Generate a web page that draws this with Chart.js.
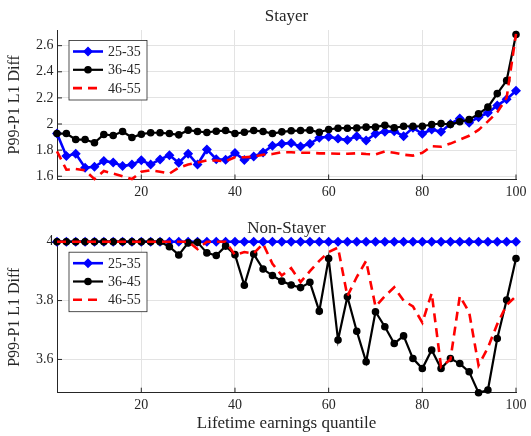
<!DOCTYPE html>
<html>
<head>
<meta charset="utf-8">
<script src="https://cdn.jsdelivr.net/npm/chart.js@4.4.1/dist/chart.umd.min.js"></script>
<style>
    html, body { margin: 0; padding: 0; background: #fff; }
    #wrap { position: relative; width: 531px; height: 436px; }
    #wrap canvas { position: absolute; left: 0; }
    #stayerChart { top: 0; }
    #nonStayerChart { top: 215px; }
</style>
</head>
<body>
<div id="wrap">
    <canvas id="stayerChart" width="531" height="215"></canvas>
    <canvas id="nonStayerChart" width="531" height="221"></canvas>
</div>
<script>
// lifetime earnings quantiles (x)
const quantiles = [2, 4, 6, 8, 10, 12, 14, 16, 18, 20, 22, 24, 26, 28, 30, 32, 34, 36, 38, 40,
    42, 44, 46, 48, 50, 52, 54, 56, 58, 60, 62, 64, 66, 68, 70, 72, 74, 76, 78, 80,
    82, 84, 86, 88, 90, 92, 94, 96, 98, 100];
const ageGroups = ['25-35', '36-45', '46-55'];

// Stayer panel
const stayer2535 = [1.927, 1.755, 1.772, 1.665, 1.672, 1.717, 1.706, 1.678, 1.690, 1.722,
    1.690, 1.729, 1.760, 1.704, 1.773, 1.690, 1.805, 1.730, 1.727, 1.778,
    1.725, 1.752, 1.782, 1.834, 1.848, 1.855, 1.827, 1.849, 1.895, 1.902,
    1.888, 1.877, 1.907, 1.874, 1.925, 1.940, 1.945, 1.907, 1.971, 1.925,
    1.958, 1.940, 2.001, 2.042, 2.009, 2.052, 2.086, 2.142, 2.190, 2.255];
const stayer3645 = [1.927, 1.927, 1.881, 1.881, 1.856, 1.920, 1.912, 1.943, 1.897, 1.922,
    1.933, 1.933, 1.927, 1.917, 1.953, 1.943, 1.935, 1.945, 1.950, 1.927,
    1.937, 1.950, 1.943, 1.927, 1.940, 1.948, 1.950, 1.953, 1.937, 1.958,
    1.968, 1.968, 1.970, 1.976, 1.976, 1.991, 1.971, 1.983, 1.983, 1.983,
    1.996, 2.004, 1.996, 2.017, 2.034, 2.078, 2.129, 2.233, 2.333, 2.685];
const stayer4655 = [1.790, 1.650, 1.655, 1.645, 1.578, 1.640, 1.620, 1.600, 1.578, 1.635,
    1.645, 1.635, 1.620, 1.665, 1.690, 1.705, 1.722, 1.720, 1.715, 1.745,
    1.745, 1.750, 1.765, 1.770, 1.784, 1.784, 1.780, 1.780, 1.775, 1.775,
    1.772, 1.772, 1.776, 1.770, 1.767, 1.790, 1.780, 1.765, 1.758, 1.780,
    1.830, 1.826, 1.850, 1.880, 1.910, 1.955, 2.020, 2.090, 2.200, 2.690];

// Non-Stayer panel
const nonStayer2535 = [4, 4, 4, 4, 4, 4, 4, 4, 4, 4, 4, 4, 4, 4, 4, 4, 4, 4, 4, 4,
    4, 4, 4, 4, 4, 4, 4, 4, 4, 4, 4, 4, 4, 4, 4, 4, 4, 4, 4, 4,
    4, 4, 4, 4, 4, 4, 4, 4, 4, 4];
const nonStayer3645 = [4, 4, 4, 4, 4, 4, 4, 4, 4, 4,
    4, 4, 3.983, 3.955, 3.996, 3.998, 3.962, 3.953, 3.985, 3.956,
    3.852, 3.958, 3.907, 3.885, 3.866, 3.853, 3.844, 3.862, 3.764, 3.943,
    3.666, 3.813, 3.696, 3.592, 3.762, 3.711, 3.654, 3.680, 3.603, 3.569,
    3.632, 3.569, 3.603, 3.586, 3.558, 3.487, 3.496, 3.671, 3.802, 3.943];
const nonStayer4655 = [4, 4, 4, 4, 4, 4, 4, 4, 4, 4,
    4, 4, 4, 4, 4, 3.975, 4, 4, 4, 3.955,
    3.965, 3.960, 3.993, 3.925, 3.885, 3.910, 3.863, 3.900, 3.935, 3.965,
    3.980, 3.815, 3.880, 3.935, 3.780, 3.815, 3.845, 3.800, 3.780, 3.725,
    3.825, 3.575, 3.600, 3.815, 3.760, 3.580, 3.640, 3.720, 3.785, 3.815];

const xTicks = [20, 40, 60, 80, 100];
const stayerYTicks = [1.6, 1.8, 2, 2.2, 2.4, 2.6];
const nonStayerYTicks = [3.6, 3.8, 4];

const textColor = '#262626';
const axisColor = '#262626';
const gridColor = '#e3e3e3';
const fontFamily = "'Liberation Serif', 'Times New Roman', serif";

Chart.defaults.font.family = fontFamily;
Chart.defaults.color = textColor;

const boxLegend = {
    id: 'boxLegend',
    afterDatasetsDraw(chart) {
        const {ctx, chartArea} = chart;
        const left = chartArea.left + 12;
        const top = chartArea.top + 10.5;
        ctx.save();
        ctx.fillStyle = '#fff';
        ctx.strokeStyle = axisColor;
        ctx.lineWidth = 0.8;
        ctx.fillRect(left, top, 78, 59.5);
        ctx.strokeRect(left, top, 78, 59.5);
        chart.data.datasets.forEach((ds, i) => {
            const y = top + 11 + i * 18.3;
            ctx.strokeStyle = ds.borderColor;
            ctx.lineWidth = ds.borderWidth;
            ctx.setLineDash(ds.borderDash || []);
            ctx.beginPath();
            ctx.moveTo(left + 4, y);
            ctx.lineTo(left + 34, y);
            ctx.stroke();
            ctx.setLineDash([]);
            if (ds.pointRadius > 0) {
                ctx.fillStyle = ds.pointBackgroundColor;
                ctx.strokeStyle = ds.pointBorderColor;
                ctx.lineWidth = ds.pointBorderWidth;
                Chart.helpers.drawPoint(ctx, {
                    pointStyle: ds.pointStyle,
                    radius: ds.pointRadius,
                    borderWidth: ds.pointBorderWidth,
                    rotation: 0
                }, left + 19, y);
            }
            ctx.fillStyle = textColor;
            ctx.font = '14px ' + fontFamily;
            ctx.textBaseline = 'middle';
            ctx.textAlign = 'left';
            ctx.fillText(ds.label, left + 39, y + 1);
        });
        ctx.restore();
    }
};

const innerTicks = {
    id: 'innerTicks',
    beforeDatasetsDraw(chart) {
        const {ctx, chartArea, scales} = chart;
        ctx.save();
        ctx.strokeStyle = axisColor;
        ctx.lineWidth = 1;
        ctx.beginPath();
        scales.x.ticks.forEach(t => {
            const p = scales.x.getPixelForValue(t.value);
            ctx.moveTo(p, chartArea.bottom);
            ctx.lineTo(p, chartArea.bottom - 5);
        });
        scales.y.ticks.forEach(t => {
            const p = scales.y.getPixelForValue(t.value);
            ctx.moveTo(chartArea.left, p);
            ctx.lineTo(chartArea.left + 5, p);
        });
        ctx.stroke();
        ctx.restore();
    }
};

function makeDatasets(young, mid, old) {
    const pts = arr => quantiles.map((q, i) => ({x: q, y: arr[i]}));
    return [{
        label: ageGroups[0],
        data: pts(young),
        xAxisID: 'x',
        yAxisID: 'y',
        borderColor: '#0000ff',
        backgroundColor: '#0000ff',
        borderWidth: 2.6,
        pointStyle: 'rectRot',
        pointRadius: 4,
        pointBorderWidth: 1.4,
        pointBackgroundColor: '#0000ff',
        pointBorderColor: '#0000ff',
        order: 3,
        clip: false
    }, {
        label: ageGroups[1],
        data: pts(mid),
        xAxisID: 'x',
        yAxisID: 'y',
        borderColor: '#000000',
        backgroundColor: '#000000',
        borderWidth: 2.2,
        pointStyle: 'circle',
        pointRadius: 3.1,
        pointBorderWidth: 1.4,
        pointBackgroundColor: '#000000',
        pointBorderColor: '#000000',
        order: 2,
        clip: false
    }, {
        label: ageGroups[2],
        data: pts(old),
        xAxisID: 'x',
        yAxisID: 'y',
        borderColor: '#ff0000',
        backgroundColor: '#ff0000',
        borderWidth: 2.6,
        borderDash: [9, 6],
        pointRadius: 0,
        order: 1,
        clip: false
    }];
}

function makeChart(canvas, cfg) {
    return new Chart(canvas, {
        type: 'line',
        data: {datasets: makeDatasets(cfg.young, cfg.mid, cfg.old)},
        plugins: [innerTicks, boxLegend],
        options: {
            responsive: false,
            animation: false,
            layout: {padding: {left: 0, right: 9.5, top: 0, bottom: 0}},
            elements: {line: {tension: 0}},
            plugins: {
                legend: {display: false},
                tooltip: {enabled: false}
            },
            scales: {
                x: {
                    type: 'linear',
                    min: 2,
                    max: 100,
                    afterBuildTicks: s => { s.ticks = xTicks.map(v => ({value: v})); },
                    afterFit: s => { s.height = cfg.xHeight; },
                    grid: {color: gridColor, drawTicks: false},
                    border: {display: true, color: axisColor, width: 1},
                    ticks: {padding: 4.5, color: textColor, font: {size: 14}, maxRotation: 0},
                    title: {
                        display: cfg.xTitle,
                        text: 'Lifetime earnings quantile',
                        color: textColor,
                        font: {size: 17},
                        padding: {top: 0, bottom: 2}
                    }
                },
                y: {
                    type: 'linear',
                    min: cfg.yMin,
                    max: cfg.yMax,
                    afterBuildTicks: s => { s.ticks = cfg.yTicks.map(v => ({value: v})); },
                    afterFit: s => { s.width = 57; },
                    grid: {color: gridColor, drawTicks: false},
                    border: {display: true, color: axisColor, width: 1},
                    ticks: {padding: 3.5, color: textColor, font: {size: 14}, callback: v => String(v)},
                    title: {
                        display: true,
                        text: 'P99-P1 L1 Diff',
                        color: textColor,
                        font: {size: 16},
                        padding: {top: 5.4, bottom: 0}
                    }
                },
                // top axis only carries the panel title so it centres over the axes box
                panelTitle: {
                    type: 'linear',
                    axis: 'x',
                    position: 'top',
                    min: 0,
                    max: 1,
                    afterFit: s => { s.height = cfg.titleHeight; },
                    grid: {display: false, drawTicks: false},
                    border: {display: false},
                    ticks: {display: false},
                    title: {
                        display: true,
                        text: cfg.title,
                        color: textColor,
                        font: {size: 17},
                        padding: {top: cfg.titleTop, bottom: 0}
                    }
                }
            }
        }
    });
}

(() => {
    'use strict'
    const top = document.querySelector('#stayerChart');
    const bottom = document.querySelector('#nonStayerChart');

    makeChart(top, {
        title: 'Stayer',
        titleHeight: 30,
        titleTop: 6.8,
        young: stayer2535, mid: stayer3645, old: stayer4655,
        yMin: 1.575, yMax: 2.72, yTicks: stayerYTicks,
        xHeight: 35.5, xTitle: false
    });

    makeChart(bottom, {
        title: 'Non-Stayer',
        titleHeight: 26.7,
        titleTop: 3.8,
        young: nonStayer2535, mid: nonStayer3645, old: nonStayer4655,
        yMin: 3.487, yMax: 4, yTicks: nonStayerYTicks,
        xHeight: 43.3, xTitle: true
    });
})();
</script>
</body>
</html>
